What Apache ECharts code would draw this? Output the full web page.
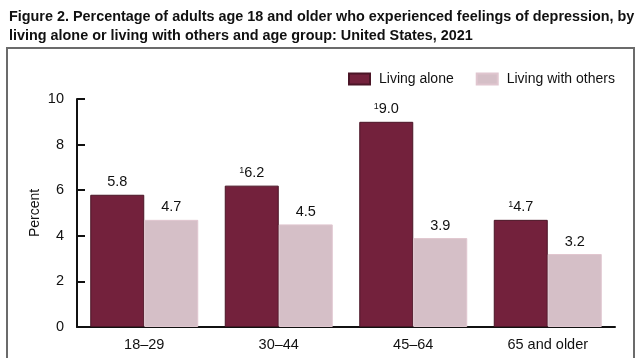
<!DOCTYPE html>
<html>
<head>
<meta charset="utf-8">
<script src="https://cdn.jsdelivr.net/npm/echarts@6/dist/echarts.min.js"></script>
<style>
html,body{margin:0;padding:0;background:#fff;}
#c{width:640px;height:358px;}
</style>
</head>
<body>
<div id="c"></div>
<script>
var titleLines = [
  "Figure 2. Percentage of adults age 18 and older who experienced feelings of depression, by",
  "living alone or living with others and age group: United States, 2021"
];
var categories = ["18\u201329", "30\u201344", "45\u201364", "65 and older"];
var seriesNames = ["Living alone", "Living with others"];
var livingAlone = [5.8, 6.2, 9.0, 4.7];
var livingAloneFootnote = ["", "1", "1", "1"];
var livingWithOthers = [4.7, 4.5, 3.9, 3.2];
var livingWithOthersFootnote = ["", "", "", ""];
var yTicks = [0, 2, 4, 6, 8, 10];
var yName = "Percent";

var FONT = "Liberation Sans, Arial, sans-serif";
var chart = echarts.init(document.getElementById('c'), null, {renderer: 'canvas'});

function labelFor(notes) {
  return {
    show: true,
    position: 'top',
    distance: 5,
    formatter: function (p) {
      var n = notes[p.dataIndex];
      var v = p.value.toFixed(1);
      return n ? '{sup|' + n + '}{val|' + v + '}' : '{val|' + v + '}';
    },
    rich: {
      val: {fontSize: 14.5, color: '#111', fontFamily: FONT},
      sup: {fontSize: 9, color: '#111', fontFamily: FONT, verticalAlign: 'top', padding: [0, 0, 6, 0]}
    }
  };
}

chart.setOption({
  animation: false,
  backgroundColor: '#fff',
  title: {
    text: titleLines.join('\n'),
    left: 4, top: 3,
    textStyle: {fontFamily: FONT, fontWeight: 'bold', fontSize: 14.4, lineHeight: 18.5, color: '#111'}
  },
  graphic: [{
    type: 'rect',
    shape: {x: 7, y: 48, width: 627, height: 330},
    style: {fill: null, stroke: '#6b6b6b', lineWidth: 2},
    silent: true, z: -1
  }],
  legend: {
    data: seriesNames,
    icon: 'rect',
    left: 343, top: 67,
    itemWidth: 21, itemHeight: 11, itemGap: 22,
    textStyle: {fontFamily: FONT, fontSize: 14, color: '#111', padding: [0, 0, 0, 4]}
  },
  grid: {left: 77, right: 25, top: 99, bottom: 31, containLabel: false},
  xAxis: {
    type: 'category',
    data: categories,
    axisLine: {lineStyle: {color: '#111', width: 2}},
    axisTick: {show: false},
    axisLabel: {fontFamily: FONT, fontSize: 14.5, color: '#111', margin: 10}
  },
  yAxis: {
    type: 'value',
    min: yTicks[0], max: yTicks[yTicks.length - 1], interval: 2,
    name: yName, nameLocation: 'middle', nameGap: 35, nameMoveOverlap: false,
    nameTextStyle: {fontFamily: FONT, fontSize: 14, color: '#111'},
    axisLine: {show: true, lineStyle: {color: '#111', width: 2}},
    axisTick: {show: true, inside: true, length: 8, lineStyle: {color: '#111', width: 2}},
    axisLabel: {fontFamily: FONT, fontSize: 14.5, color: '#111', margin: 13},
    splitLine: {show: false}
  },
  series: [{
    name: seriesNames[0], type: 'bar', data: livingAlone,
    barWidth: 54, barGap: '0%',
    itemStyle: {color: '#73213c', borderColor: '#4a1526', borderWidth: 1},
    label: labelFor(livingAloneFootnote)
  }, {
    name: seriesNames[1], type: 'bar', data: livingWithOthers,
    barWidth: 54,
    itemStyle: {color: '#d5bfc7', borderColor: '#e0c6cf', borderWidth: 1},
    label: labelFor(livingWithOthersFootnote)
  }]
});
</script>
</body>
</html>
